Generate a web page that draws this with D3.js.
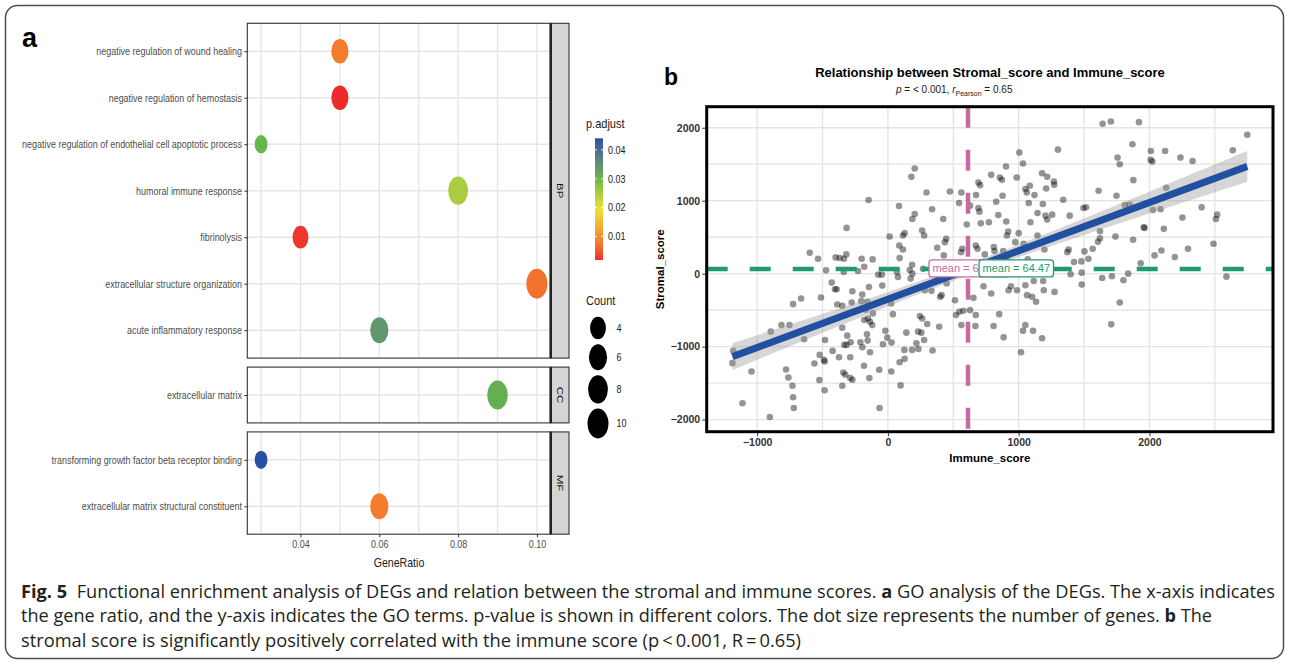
<!DOCTYPE html>
<html>
<head>
<meta charset="utf-8">
<script src="https://d3js.org/d3.v7.min.js"></script>
<style>
  body { margin: 0; background: #fff; }
  svg { display: block; font-family: "Liberation Sans", Arial, sans-serif; }
</style>
</head>
<body>
<div id="fig"></div>
<script>
// ---- panel a: GO enrichment dot plot ----
var goTerms = [
  'negative regulation of wound healing',
  'negative regulation of hemostasis',
  'negative regulation of endothelial cell apoptotic process',
  'humoral immune response',
  'fibrinolysis',
  'extracellular structure organization',
  'acute inflammatory response',
  'extracellular matrix',
  'transforming growth factor beta receptor binding',
  'extracellular matrix structural constituent'
];
var goOntology = ['BP', 'BP', 'BP', 'BP', 'BP', 'BP', 'BP', 'CC', 'MF', 'MF'];
var geneRatio = [0.05, 0.05, 0.03, 0.08, 0.04, 0.10, 0.06, 0.09, 0.03, 0.06];
var goCount = [5, 5, 3, 8, 4, 10, 6, 9, 3, 6];
var pAdjust = [0.008, 0.0019, 0.030, 0.025, 0.0025, 0.007, 0.034, 0.031, 0.044, 0.008];
var ontologies = ['BP', 'CC', 'MF'];
var ratioTicks = [0.04, 0.06, 0.08, 0.10];
var pTicks = [0.01, 0.02, 0.03, 0.04];
var countTicks = [4, 6, 8, 10];

// ---- panel b: stromal vs immune score ----
var immuneScore = [
  -148, -316, 13, -598, -534, -400, -369, -336, -318, -201,
  -117, -181, -229, -473, -338, -74, -46, -430, -405, -392,
  -272, -145, -43, -196, -512, -664, -725, -387, -349, -277,
  -204, -158, 25, -115, -137, -153, -120, -181, -170, -349,
  -311, -285, -316, -334, -211, -196, -155, -160, -20, -5,
  -38, -137, -183, -142, -66, -64, -481, -423, -374, -288,
  -522, -489, -484, -562, -341, -326, -288, -272, -524, -484,
  -349, -641, -753, -814, -896, -1183, -1189, -1043, -779, -761,
  -730, -725, -720, -1112, -903,
  1005, 1300, 1033, 903, 205, 179, 790, 856, 872, 985,
  1179, 1218, 1269, 1272, 705, 692, 1085, 1051, 1062, 1121,
  877, 1210, 1341, 295, 474, 562, 674, 544, 828, 1077,
  1185, 85, 338, 628, 692, 700, 1144, 1205, 1256, 1218,
  1390, 1495, 205, 187, 423, 603, 710, 772, 844, 905,
  1090, 262, 277, 128, 115, 1000, 920, 910, 1144, 1315,
  446, 436, 377, 569, 559, 87, 115, 672, 685, 741,
  810, 815, 882, 908, 974, 1038, 1197, 1372, 1382, 1423,
  1479, 1069, 90, 428, 185, 167, 174, 187, 269, 69,
  77, 387, 449, 282, 333, 400, 410, 513, 654, 731,
  790, 923, 941, 987, 1051, 1115, 1187, 1192, 1274, 1397,
  1482, 1064, 1103, 1133, 38, 244, 262, 521, 546, 577,
  628, 672, 562, 669, 392, 300, 231, 256, 277, 218,
  233, 185, 126, 141, 341, 28, 808, 851, 885, 1051,
  1033, 1110, 1179, 1018, 128, 90, 26, 97,
  1642, 1705, 1920, 2748, 1870, 1756, 1773, 2011, 2009, 2022,
  2120, 2237, 2330, 2637, 1877, 2128, 1611, 1748, 1515, 1811,
  1849, 2027, 2085, 2252, 2399, 2508, 2518, 1956, 1963, 2110,
  1622, 1622, 1606, 1740, 1875, 2490, 1566, 1503, 1533, 2039,
  2092, 2194, 2295, 1933, 1482, 1639, 1713, 1801, 1837, 2589,
  1773, 1708
];
var stromalScore = [
  1009, 627, 509, 286, 205, 223, 214, 205, 264, 205,
  195, 95, 36, 45, 23, -14, -14, -123, -214, -214,
  -241, -182, -164, -286, -327, -341, -418, -423, -441, -395,
  -377, -386, -409, -545, -659, -614, -705, -636, -495, -741,
  -850, -941, -977, -977, -941, -1009, -918, -832, -782, -877,
  -968, -1077, -1263, -1432, -1318, -1841, -909, -1059, -1145, -1145,
  -1114, -1182, -1205, -1232, -1355, -1386, -1432, -1455, -1459, -1600,
  -1536, -900, -705, -705, -795, -1059, -1227, -1341, -1314, -1423,
  -1536, -1695, -1841, -1777, -1964,
  1659, 1700, 1509, 1468, 1441, 1327, 1354, 1318, 1286, 1318,
  1377, 1327, 1263, 1218, 1213, 1250, 1204, 1159, 1114, 1077,
  1068, 1168, 1013, 1113, 1127, 1113, 1077, 968, 986, 968,
  955, 927, 882, 932, 900, 850, 832, 795, 809, 741,
  795, 900, 818, 750, 750, 673, 691, 705, 804, 714,
  705, 591, 523, 555, 523, 555, 577, 523, 523, 523,
  477, 432, 355, 341, 295, 386, 332, 386, 341, 264,
  364, 309, 309, 227, 432, 409, 332, 295, 332, 159,
  168, 195, 213, 250, 123, 50, -68, 0, 68, 23,
  -45, -68, -136, -227, -236, -318, -295, -364, -332, -173,
  -273, -227, -173, -227, -159, -100, -100, -227, -250, -9,
  -150, -295, -318, -386, -555, -582, -614, -568, -523, -509,
  -500, -568, -705, -718, -727, -691, -795, -809, -909, -955,
  -1032, -1045, -1045, -809, -1054, -945, -718, -555, -873, -705,
  -782, -782, -886, -1077, -1168, -1214, -1341, -1532,
  2055, 2086, 2077, 1904, 1773, 1591, 1500, 1682, 1559, 1536,
  1682, 1591, 1545, 1691, 1282, 1177, 1136, 1068, 909, 941,
  945, 873, 882, 768, 909, 750, 809, 636, 627, 614,
  582, 486, 436, 509, 464, 409, 341, 305, 205, 250,
  318, 227, 341, 141, 14, -59, -36, -91, 0, -41,
  -395, -695
];
var meanImmune = 612.5;
var meanStromal = 64.47;
// the x-mean label is printed half hidden under the y-mean label
var meanLabels = ['mean = 6', 'mean = 64.47'];
var immuneTicks = [-1000, 0, 1000, 2000];
var stromalTicks = [-2000, -1000, 0, 1000, 2000];

var captionLines = [
  [['Fig. 5', true], ['  Functional enrichment analysis of DEGs and relation between the stromal and immune scores. ', false], ['a', true], [' GO analysis of the DEGs. The x-axis indicates', false]],
  [['the gene ratio, and the y-axis indicates the GO terms. p-value is shown in different colors. The dot size represents the number of genes. ', false], ['b', true], [' The', false]],
  [['stromal score is significantly positively correlated with the immune score (p\u2009<\u20090.001, R\u2009=\u20090.65)', false]]
];

// panel a was printed squeezed sideways
var SX = 0.815;

function expand(ext, f) {
  var d = (ext[1] - ext[0]) * f;
  return [ext[0] - d, ext[1] + d];
}

var svg = d3.select('#fig').append('svg')
  .attr('width', 1290)
  .attr('height', 665);

svg.append('rect')
  .attr('x', 5.5).attr('y', 5.5)
  .attr('width', 1278).attr('height', 653)
  .attr('rx', 12)
  .attr('fill', '#fff')
  .attr('stroke', '#4d4d4d')
  .attr('stroke-width', 1.5);

// ================= panel a =================
var A = {left: 247.3, right: 550.7, top: 23.3, unit: 46.5, gap: 9, strip: 18.3};

var xA = d3.scaleLinear()
  .domain(expand(d3.extent(geneRatio), 0.05))
  .range([A.left, A.right]);

var pExt = d3.extent(pAdjust);
var pPalette = ['#ee2a2a', '#ece331', '#65b74a', '#2a4fa6'];
var pPos = [0, 0.418, 0.667, 1];
var colorA = d3.scaleLinear()
  .domain(pPos.map(function(f) { return pExt[0] + f * (pExt[1] - pExt[0]); }))
  .range(pPalette)
  .interpolate(d3.interpolateLab);

var minCount = d3.min(goCount);
var sizeA = d3.scaleSqrt()
  .domain([0, d3.max(goCount) - minCount])
  .range([18.3, 30]);
function dotH(c) { return sizeA(c - minCount); }

var gA = svg.append('g');

gA.append('text')
  .attr('x', 22).attr('y', 46.5)
  .attr('font-size', 27)
  .attr('font-weight', 'bold')
  .text('a');

var gridRatios = d3.range(3, 11).map(function(d) { return d / 100; });
var yTop = A.top, facetBottom = 0;

ontologies.forEach(function(ont) {
  var idx = d3.range(goTerms.length).filter(function(i) { return goOntology[i] === ont; });
  var terms = idx.map(function(i) { return goTerms[i]; });
  var h = (terms.length + 0.2) * A.unit;
  var yF = d3.scalePoint().domain(terms).range([yTop, yTop + h]).padding(0.6);
  var g = gA.append('g');

  g.selectAll('.vgrid').data(gridRatios).enter().append('line')
    .attr('x1', function(d) { return xA(d); })
    .attr('x2', function(d) { return xA(d); })
    .attr('y1', yTop).attr('y2', yTop + h)
    .attr('stroke', '#e6e6e6').attr('stroke-width', 1.4);

  g.selectAll('.hgrid').data(terms).enter().append('line')
    .attr('x1', A.left).attr('x2', A.right)
    .attr('y1', function(d) { return yF(d); })
    .attr('y2', function(d) { return yF(d); })
    .attr('stroke', '#e6e6e6').attr('stroke-width', 1.4);

  g.selectAll('ellipse').data(idx).enter().append('ellipse')
    .attr('cx', function(i) { return xA(geneRatio[i]); })
    .attr('cy', function(i) { return yF(goTerms[i]); })
    .attr('rx', function(i) { return dotH(goCount[i]) * 0.35; })
    .attr('ry', function(i) { return dotH(goCount[i]) / 2; })
    .attr('fill', function(i) { return colorA(pAdjust[i]); });

  g.append('rect')
    .attr('x', A.left).attr('y', yTop)
    .attr('width', A.right - A.left).attr('height', h)
    .attr('fill', 'none').attr('stroke', '#333').attr('stroke-width', 1.1);

  g.append('rect')
    .attr('x', A.right).attr('y', yTop)
    .attr('width', A.strip).attr('height', h)
    .attr('fill', '#d4d4d4').attr('stroke', '#333').attr('stroke-width', 1.1);
  g.append('line')
    .attr('x1', A.right).attr('x2', A.right)
    .attr('y1', yTop).attr('y2', yTop + h)
    .attr('stroke', '#222').attr('stroke-width', 2.6);

  g.append('text')
    .attr('transform', 'translate(' + (A.right + A.strip / 2) + ',' + (yTop + h / 2) + ') rotate(90) scale(1,' + SX + ')')
    .attr('text-anchor', 'middle')
    .attr('dy', '0.35em')
    .attr('font-size', 11.5)
    .attr('fill', '#1a1a1a')
    .text(ont);

  var ax = g.append('g')
    .attr('transform', 'translate(' + A.left + ',0)')
    .call(d3.axisLeft(yF).tickSize(3));
  ax.select('.domain').remove();
  ax.selectAll('line').attr('stroke', '#333');
  ax.selectAll('text')
    .attr('x', -5.3 / SX)
    .attr('transform', 'scale(' + SX + ',1)')
    .attr('font-family', '"Liberation Sans", Arial, sans-serif')
    .attr('font-size', 11)
    .attr('fill', '#4d4d4d');

  facetBottom = yTop + h;
  yTop += h + A.gap;
});

var axA = gA.append('g')
  .attr('transform', 'translate(0,' + facetBottom + ')')
  .call(d3.axisBottom(xA).tickValues(ratioTicks).tickFormat(d3.format('.2f')).tickSize(3));
axA.select('.domain').remove();
axA.selectAll('line').attr('stroke', '#333');
axA.selectAll('text')
  .attr('transform', 'scale(' + SX + ',1)')
  .attr('font-family', '"Liberation Sans", Arial, sans-serif')
  .attr('font-size', 11)
  .attr('fill', '#4d4d4d');

gA.append('text')
  .attr('transform', 'translate(' + ((A.left + A.right) / 2) + ',567) scale(' + SX + ',1)')
  .attr('text-anchor', 'middle')
  .attr('font-size', 13)
  .attr('fill', '#1a1a1a')
  .text('GeneRatio');

// legend: p.adjust colourbar
var L = {x: 586, barX: 595, barW: 8, barTop: 138.3, barBottom: 260};
gA.append('text')
  .attr('transform', 'translate(' + L.x + ',128) scale(' + SX + ',1)')
  .attr('font-size', 13.5)
  .attr('fill', '#1a1a1a')
  .text('p.adjust');

var pBar = d3.scaleLinear().domain(pExt).range([L.barBottom, L.barTop]);
var grad = svg.append('defs').append('linearGradient')
  .attr('id', 'pgrad')
  .attr('x1', 0).attr('y1', 1).attr('x2', 0).attr('y2', 0);
grad.selectAll('stop').data(d3.range(0, 1.0001, 0.05)).enter().append('stop')
  .attr('offset', function(d) { return d; })
  .attr('stop-color', function(d) { return colorA(pExt[0] + d * (pExt[1] - pExt[0])); });
gA.append('rect')
  .attr('x', L.barX).attr('y', L.barTop)
  .attr('width', L.barW).attr('height', L.barBottom - L.barTop)
  .attr('fill', 'url(#pgrad)');
gA.selectAll('.ptickL').data(pTicks).enter().append('line')
  .attr('x1', L.barX).attr('x2', L.barX + 1.8)
  .attr('y1', function(d) { return pBar(d); })
  .attr('y2', function(d) { return pBar(d); })
  .attr('stroke', '#fff').attr('stroke-width', 1);
gA.selectAll('.ptickR').data(pTicks).enter().append('line')
  .attr('x1', L.barX + L.barW - 1.8).attr('x2', L.barX + L.barW)
  .attr('y1', function(d) { return pBar(d); })
  .attr('y2', function(d) { return pBar(d); })
  .attr('stroke', '#fff').attr('stroke-width', 1);
gA.selectAll('.plab').data(pTicks).enter().append('text')
  .attr('transform', function(d) { return 'translate(608,' + (pBar(d) + 3.8) + ') scale(' + SX + ',1)'; })
  .attr('font-size', 11)
  .attr('fill', '#1a1a1a')
  .text(function(d) { return d3.format('.2f')(d); });

// legend: Count
gA.append('text')
  .attr('transform', 'translate(' + L.x + ',305) scale(' + SX + ',1)')
  .attr('font-size', 13.5)
  .attr('fill', '#1a1a1a')
  .text('Count');

var keyY = [], cy = 328;
countTicks.forEach(function(c, i) {
  if (i > 0) cy += (dotH(countTicks[i - 1]) + dotH(c)) / 2 + 5;
  keyY.push(cy);
});
gA.selectAll('.ckey').data(countTicks).enter().append('ellipse')
  .attr('cx', 598)
  .attr('cy', function(d, i) { return keyY[i]; })
  .attr('rx', function(d) { return dotH(d) * 0.35; })
  .attr('ry', function(d) { return dotH(d) / 2; })
  .attr('fill', '#000');
gA.selectAll('.clab').data(countTicks).enter().append('text')
  .attr('transform', function(d, i) { return 'translate(616.5,' + (keyY[i] + 3.8) + ') scale(' + SX + ',1)'; })
  .attr('font-size', 11)
  .attr('fill', '#1a1a1a')
  .text(function(d) { return d; });

// ================= panel b =================
var B = {left: 706.7, right: 1273, top: 106.7, bottom: 431.7};
var xB = d3.scaleLinear()
  .domain(expand(d3.extent(immuneScore), 0.05))
  .range([B.left, B.right]);
var yB = d3.scaleLinear()
  .domain(expand(d3.extent(stromalScore), 0.05))
  .range([B.bottom, B.top]);

var gB = svg.append('g');

gB.append('text')
  .attr('x', 664).attr('y', 85)
  .attr('font-size', 23)
  .attr('font-weight', 'bold')
  .text('b');

gB.append('text')
  .attr('x', 990).attr('y', 76.5)
  .attr('text-anchor', 'middle')
  .attr('font-size', 13)
  .attr('font-weight', 'bold')
  .text('Relationship between Stromal_score and Immune_score');

var sub = gB.append('text')
  .attr('x', 896).attr('y', 93)
  .attr('font-size', 10)
  .attr('fill', '#1a1a1a');
sub.append('tspan').attr('font-style', 'italic').text('p');
sub.append('tspan').text(' = < 0.001, ');
sub.append('tspan').attr('font-style', 'italic').text('r');
sub.append('tspan').attr('font-size', 7).attr('dy', 2.5).text('Pearson');
sub.append('tspan').attr('dy', -2.5).text(' = 0.65');

// grid
gB.selectAll('.vg').data(d3.range(-1000, 2501, 500)).enter().append('line')
  .attr('x1', function(d) { return xB(d); })
  .attr('x2', function(d) { return xB(d); })
  .attr('y1', B.top).attr('y2', B.bottom)
  .attr('stroke', '#e3e3e3').attr('stroke-width', 1.3);
gB.selectAll('.hg').data(d3.range(-2000, 2001, 500)).enter().append('line')
  .attr('y1', function(d) { return yB(d); })
  .attr('y2', function(d) { return yB(d); })
  .attr('x1', B.left).attr('x2', B.right)
  .attr('stroke', '#e3e3e3').attr('stroke-width', 1.3);

// points
gB.selectAll('circle').data(immuneScore).enter().append('circle')
  .attr('cx', function(d) { return xB(d); })
  .attr('cy', function(d, i) { return yB(stromalScore[i]); })
  .attr('r', 3.3)
  .attr('fill', '#000')
  .attr('fill-opacity', 0.42);

// linear fit with 95% band
var n = immuneScore.length;
var mx = d3.mean(immuneScore), my = d3.mean(stromalScore);
var sxx = d3.sum(immuneScore, function(d) { return (d - mx) * (d - mx); });
var sxy = d3.sum(immuneScore, function(d, i) { return (d - mx) * (stromalScore[i] - my); });
var slope = sxy / sxx, icpt = my - slope * mx;
var sres = Math.sqrt(d3.sum(immuneScore, function(d, i) {
  var r = stromalScore[i] - icpt - slope * d; return r * r;
}) / (n - 2));
var tq = 1.968;
function fit(x) { return icpt + slope * x; }
function half(x) { return tq * sres * Math.sqrt(1 / n + (x - mx) * (x - mx) / sxx); }
var xe = d3.extent(immuneScore);
var xs = d3.range(0, 81).map(function(i) { return xe[0] + i * (xe[1] - xe[0]) / 80; });

gB.append('path')
  .datum(xs)
  .attr('d', d3.area()
    .x(function(d) { return xB(d); })
    .y0(function(d) { return yB(fit(d) - half(d)); })
    .y1(function(d) { return yB(fit(d) + half(d)); }))
  .attr('fill', '#999')
  .attr('fill-opacity', 0.4);
gB.append('path')
  .datum(xe)
  .attr('d', d3.line().x(function(d) { return xB(d); }).y(function(d) { return yB(fit(d)); }))
  .attr('stroke', '#2150a0')
  .attr('stroke-width', 7)
  .attr('fill', 'none');

// mean lines
var pink = '#c86aa2', green = '#229a70';
gB.append('line')
  .attr('x1', xB(meanImmune)).attr('x2', xB(meanImmune))
  .attr('y1', B.top).attr('y2', B.bottom)
  .attr('stroke', pink).attr('stroke-width', 4.5)
  .attr('stroke-dasharray', '21,22');
gB.append('line')
  .attr('x1', B.left).attr('x2', B.right)
  .attr('y1', yB(meanStromal)).attr('y2', yB(meanStromal))
  .attr('stroke', green).attr('stroke-width', 4.5)
  .attr('stroke-dasharray', '21,22');

function meanLabel(x, col, txt, w) {
  var yl = yB(meanStromal) - 0.5;
  gB.append('rect')
    .attr('x', x).attr('y', yl - 8.5)
    .attr('width', w).attr('height', 17)
    .attr('rx', 3)
    .attr('fill', '#fff').attr('stroke', col).attr('stroke-width', 1.3);
  gB.append('text')
    .attr('x', x + 3.5).attr('y', yl + 4)
    .attr('font-size', 11)
    .attr('fill', col)
    .text(txt);
}
meanLabel(xB(meanImmune) - 39, pink, meanLabels[0], 80);
meanLabel(xB(meanImmune) + 11, green, meanLabels[1], 74.5);

gB.append('rect')
  .attr('x', B.left).attr('y', B.top)
  .attr('width', B.right - B.left).attr('height', B.bottom - B.top)
  .attr('fill', 'none').attr('stroke', '#000').attr('stroke-width', 3);

var axBy = gB.append('g')
  .attr('transform', 'translate(' + (B.left - 1.5) + ',0)')
  .call(d3.axisLeft(yB).tickValues(stromalTicks).tickFormat(d3.format('d')).tickSize(3).tickPadding(2));
var axBx = gB.append('g')
  .attr('transform', 'translate(0,' + (B.bottom + 1.5) + ')')
  .call(d3.axisBottom(xB).tickValues(immuneTicks).tickFormat(d3.format('d')).tickSize(3).tickPadding(2));
[axBy, axBx].forEach(function(a) {
  a.select('.domain').remove();
  a.selectAll('line').attr('stroke', '#333');
  a.selectAll('text')
    .attr('font-family', '"Liberation Sans", Arial, sans-serif')
    .attr('font-size', 10.5)
    .attr('font-weight', 'bold')
    .attr('fill', '#333');
});

gB.append('text')
  .attr('x', (B.left + B.right) / 2).attr('y', 461.5)
  .attr('text-anchor', 'middle')
  .attr('font-size', 11.5)
  .attr('font-weight', 'bold')
  .text('Immune_score');
gB.append('text')
  .attr('transform', 'translate(664,' + ((B.top + B.bottom) / 2) + ') rotate(-90)')
  .attr('text-anchor', 'middle')
  .attr('font-size', 11.5)
  .attr('font-weight', 'bold')
  .text('Stromal_score');

// ================= caption =================
var capY = [597.5, 622, 646.5];
var capW = [1254, 1191, 780];
captionLines.forEach(function(parts, i) {
  var t = svg.append('text')
    .attr('x', 21).attr('y', capY[i])
    .attr('font-family', '"Open Sans", "Noto Sans", sans-serif')
    .attr('font-size', 18)
    .attr('fill', '#231f20')
    .attr('textLength', capW[i])
    .attr('lengthAdjust', 'spacingAndGlyphs')
    .style('white-space', 'pre');
  parts.forEach(function(p) {
    t.append('tspan')
      .attr('font-weight', p[1] ? 'bold' : 'normal')
      .text(p[0]);
  });
});
</script>
</body>
</html>
